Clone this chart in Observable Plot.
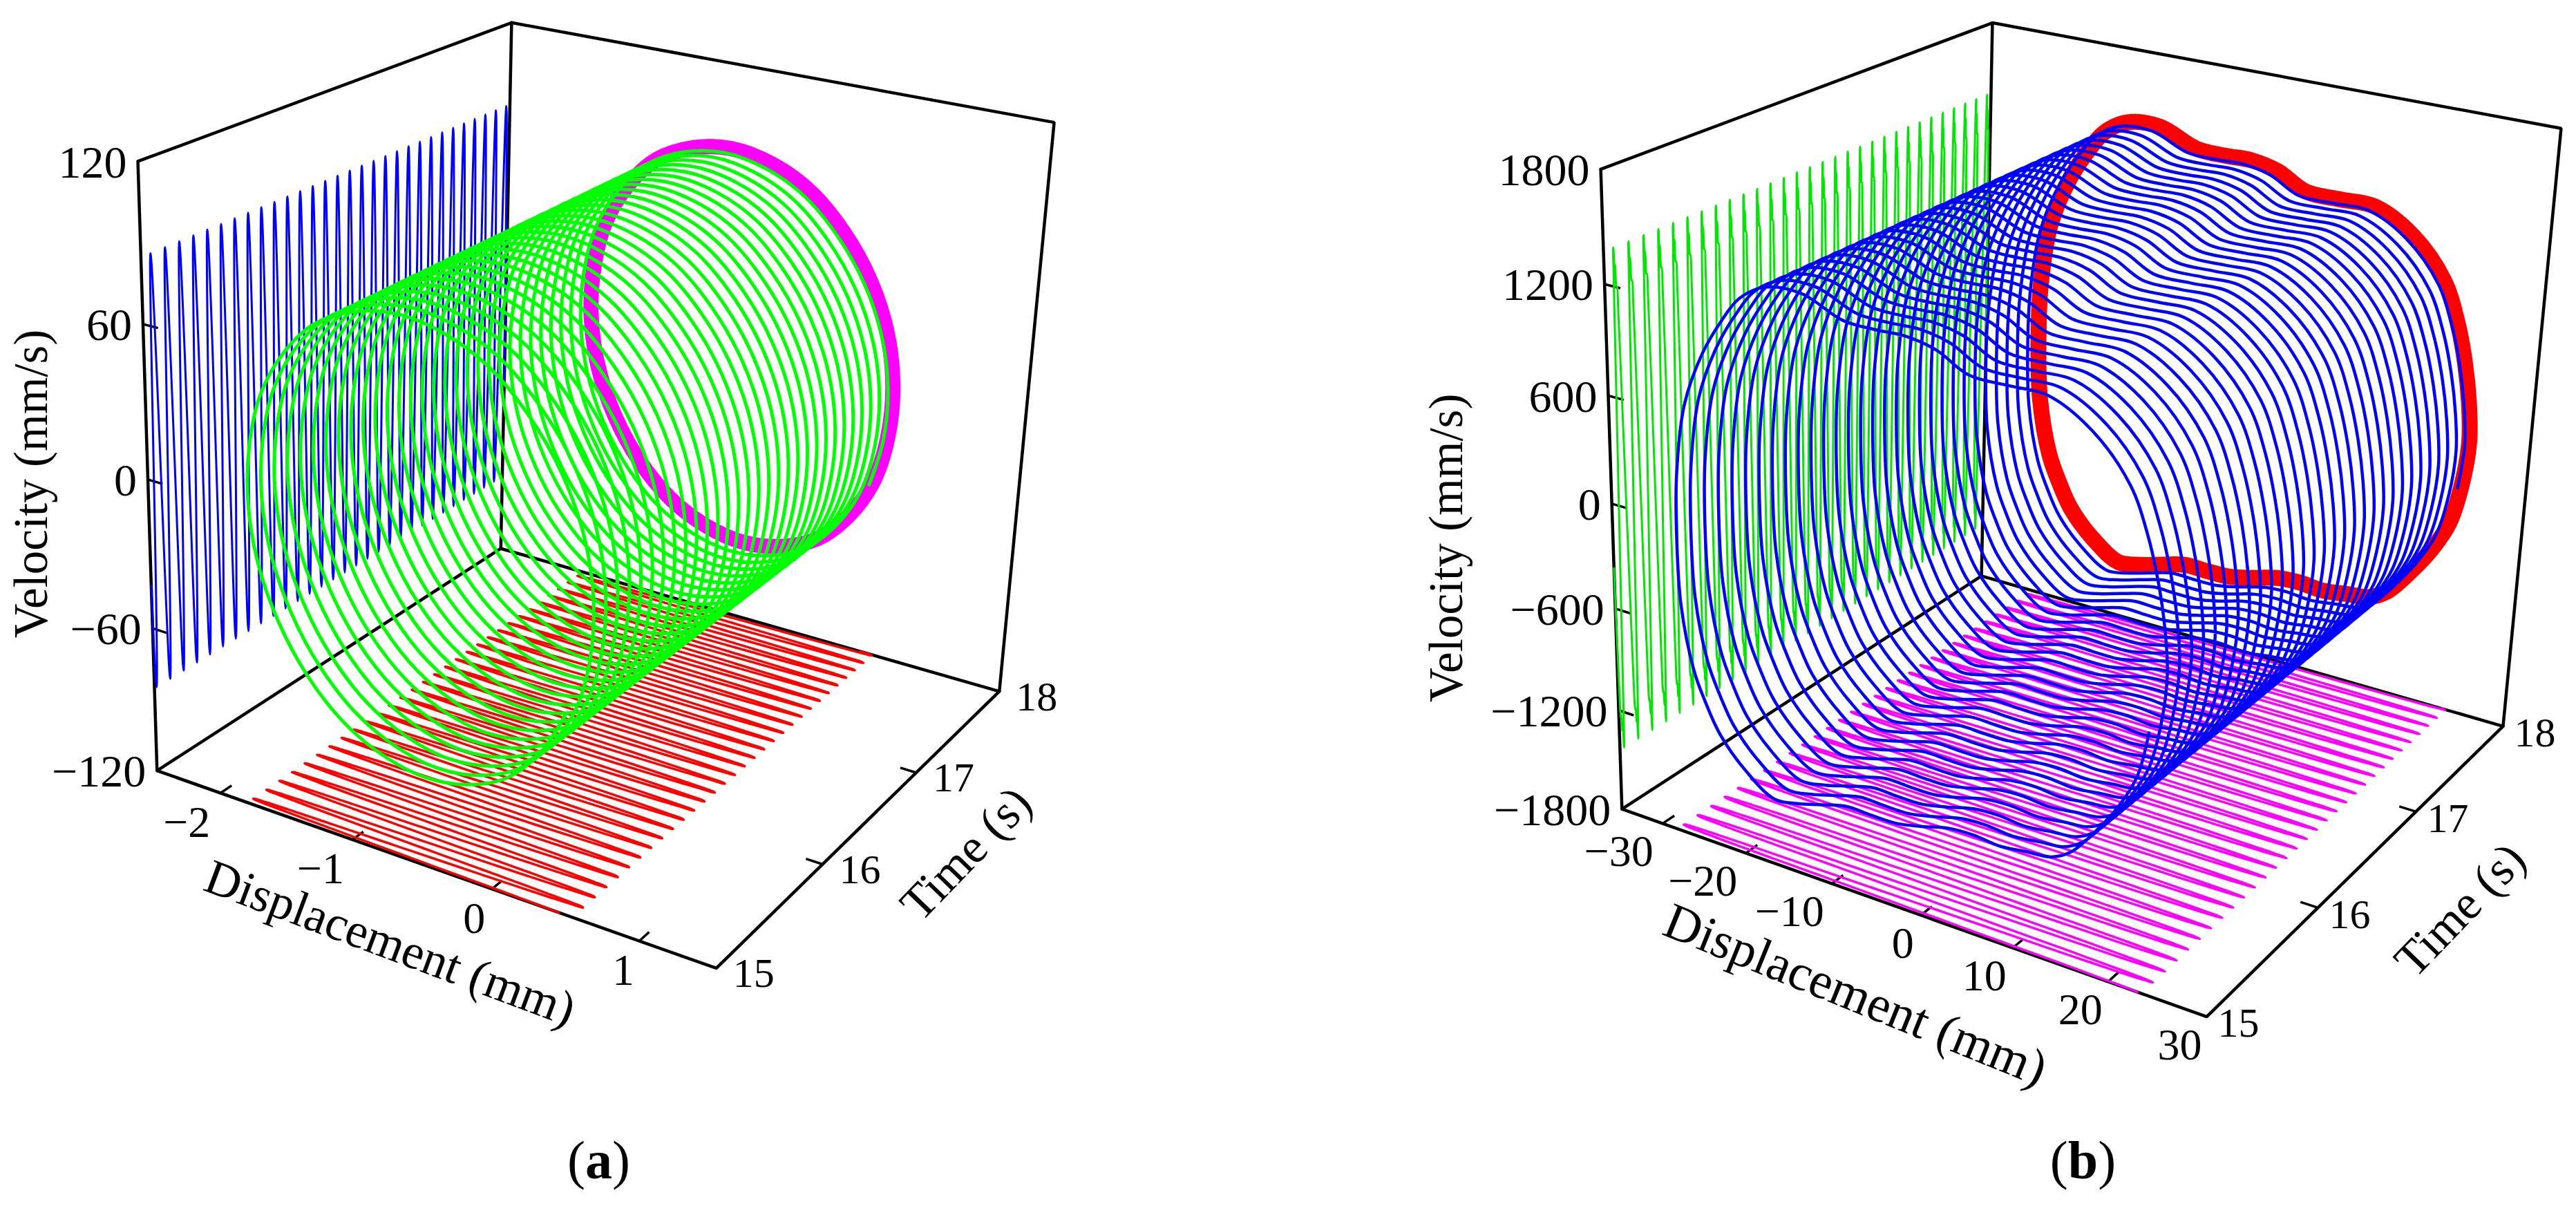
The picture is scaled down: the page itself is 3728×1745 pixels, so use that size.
<!DOCTYPE html>
<html>
<head>
<meta charset="utf-8">
<script src="https://cdn.jsdelivr.net/npm/d3@7"></script>
<script src="https://cdn.jsdelivr.net/npm/@observablehq/plot@0.6"></script>
<style>html,body{margin:0;padding:0;background:#fff}svg{display:block}</style>
</head>
<body>
<div id="chart"></div>
<script>
// ---------- values ----------
const cycleStarts = [15.0,15.1,15.2,15.3,15.4,15.5,15.6,15.7,15.8,15.9,16.0,16.1,16.2,16.3,16.4,16.5,16.6,16.7,16.8,16.9,17.0,17.1,17.2,17.3,17.4,17.5,17.6,17.7,17.8,17.9];
const cyclePeriod = 0.1;

// Panel (a) limit cycle (mm, mm/s), clockwise from the point where the trajectory starts
const dispA = [0.46,0.30,0.08,-0.19,-0.49,-0.80,-1.09,-1.36,-1.57,-1.72,-1.79,-1.78,-1.70,-1.54,-1.32,-1.05,-0.75,-0.44,-0.15,0.115,0.33,0.48,0.55,0.54];
const velA  = [-42.5,-60,-74,-82,-85,-82,-74,-60,-42.5,-22,0,22,42.5,60,74,82,85,82,74,60,42.5,22,0,-22];

// Panel (b) limit cycle (mm, mm/s), clockwise from the point where the trajectory starts
const dispB = [23,22,20.3,18.2,15.6,13.6,11.1,8.2,5.3,2.6,-0.4,-3.1,-5.9,-8.7,-11.5,-14.3,-17,-20.4,-23.4,-25.1,-26.4,-27.8,-28.2,-28.1,-27.1,-25,-22.8,-20.8,-18,-14.1,-9.7,-6.3,-3.2,-0.1,3.2,7.2,11,15.4,19.2,21,22.2,23,23.4];
const velB  = [-367,-620,-810,-980,-1152,-1217,-1235,-1256,-1245,-1256,-1300,-1332,-1336,-1335,-1375,-1418,-1440,-1330,-1166,-1004,-842,-493,-126,241,630,929,1130,1270,1360,1372,1285,1278,1282,1249,1163,1159,1159,1037,814,590,360,130,-97];

const dispTicksA = [-2,-1,0,1];
const velTicksA  = [-120,-60,0,60,120];
const dispTicksB = [-30,-20,-10,0,10,20,30];
const velTicksB  = [-1800,-1200,-600,0,600,1200,1800];
const timeTicks  = [15,16,17,18];

// ---------- camera calibration: where the box corners fall on the page ----------
// [x fraction, velocity fraction, time fraction, page x, page y]
const cameraA = [[0,0,0,227,1114],[1,0,0,1036,1401],[0,0,1,724,794],[1,0,1,1446,999],[0,1,0,199,233],[0,1,1,740,32],[1,1,1,1525,177]];
const cameraB = [[0,0,0,2347,1171],[1,0,0,3193,1470],[0,0,1,2867,832],[1,0,1,3622,1051],[0,1,0,2316,244],[0,1,1,2883,33],[1,1,1,3706,185]];

function fitCamera(anchors) {
  const A = [], b = [];
  for (const [X,Y,Z,u,v] of anchors) {
    const U = u/1000, V = v/1000;
    A.push([X,Y,Z,1,0,0,0,0,-U*X,-U*Y,-U*Z]); b.push(U);
    A.push([0,0,0,0,X,Y,Z,1,-V*X,-V*Y,-V*Z]); b.push(V);
  }
  const n = 11;
  const M = Array.from({length:n},(_,i)=>{
    const row = Array.from({length:n},(_,j)=>d3.sum(A,(r)=>r[i]*r[j]) + (i===j?1e-9:0));
    row.push(d3.sum(A,(r,k)=>r[i]*b[k]));
    return row;
  });
  for (let c=0;c<n;c++){
    let p=c; for(let r=c+1;r<n;r++) if(Math.abs(M[r][c])>Math.abs(M[p][c])) p=r;
    [M[c],M[p]]=[M[p],M[c]];
    for(let r=0;r<n;r++){ if(r===c) continue; const f=M[r][c]/M[c][c]; for(let k=c;k<=n;k++) M[r][k]-=f*M[c][k]; }
  }
  const p = M.map((r,i)=>r[n]/r[i]);
  return (X,Y,Z)=>{
    const w = p[8]*X+p[9]*Y+p[10]*Z+1;
    return [1000*(p[0]*X+p[1]*Y+p[2]*Z+p[3])/w, 1000*(p[4]*X+p[5]*Y+p[6]*Z+p[7])/w];
  };
}

function helix(disp, vel) {
  const [x0,x1] = d3.extent(disp), [v0,v1] = d3.extent(vel);
  const cx=(x0+x1)/2, ax=(x1-x0)/2, cv=(v0+v1)/2, av=(v1-v0)/2;
  const ang = disp.map((x,i)=>Math.atan2((vel[i]-cv)/av,(x-cx)/ax));
  const phase = ang.map(a=>{ let d=(ang[0]-a)/(2*Math.PI); return d-Math.floor(d); });
  const pts = cycleStarts.flatMap(s=>disp.map((x,i)=>({x,v:vel[i],t:s+phase[i]*cyclePeriod})));
  pts.push({x:disp[0],v:vel[0],t:cycleStarts[cycleStarts.length-1]+cyclePeriod});
  return pts;
}

function panel(cfg) {
  const {xd,vd,td,anchors,disp,vel,dispTicks,velTicks,colors,widths,lab,helixEnd} = cfg;
  const cam = fitCamera(anchors);
  const P = (x,v,t)=>cam((x-xd[0])/(xd[1]-xd[0]),(v-vd[0])/(vd[1]-vd[0]),(t-td[0])/(td[1]-td[0]));
  const sx = d=>P(d.x,d.v,d.t)[0], sy = d=>P(d.x,d.v,d.t)[1];
  const XL=xd[0],XH=xd[1],VL=vd[0],VH=vd[1],TL=td[0],TH=td[1];
  const frame = [
    [[XL,VH,TL],[XL,VL,TL],[XH,VL,TL],[XH,VL,TH],[XH,VH,TH],[XL,VH,TH],[XL,VH,TL]],
    [[XL,VL,TL],[XL,VL,TH],[XH,VL,TH]],
    [[XL,VL,TH],[XL,VH,TH]]
  ];
  const edges = frame.map(path=>Plot.line(path.map(([x,v,t])=>({x,v,t})),{x:sx,y:sy,stroke:"#000",strokeWidth:4.5,strokeLinejoin:"miter"}));
  const dx=(XH-XL)*0.028, dt=(TH-TL)*0.028;
  const tickSeg = (rows)=>Plot.link(rows,{x1:d=>P(...d[0])[0],y1:d=>P(...d[0])[1],x2:d=>P(...d[1])[0],y2:d=>P(...d[1])[1],stroke:"#000",strokeWidth:3.5});
  const ticks = [
    tickSeg(velTicks.filter(v=>v>VL&&v<VH).map(v=>[[XL,v,TL],[XL+dx,v,TL]])),
    tickSeg(dispTicks.filter(x=>x>XL&&x<XH).map(x=>[[x,VL,TL],[x,VL,TL+dt]])),
    tickSeg(timeTicks.filter(t=>t>TL&&t<TH).map(t=>[[XH,VL,t],[XH-dx,VL,t]]))
  ];
  const font = {fontFamily:"Liberation Serif",fontSize:66,fill:"#000",stroke:"none"};
  const dispShift = x=>lab.dispDx[0]+(lab.dispDx[1]-lab.dispDx[0])*(x-XL)/(XH-XL);
  const labels = [
    Plot.text(velTicks,{x:v=>P(XL,v,TL)[0],y:v=>P(XL,v,TL)[1],text:v=>String(v).replace("-","\u2212"),textAnchor:"end",dx:-16,dy:2,...font}),
    Plot.text(dispTicks,{x:x=>P(x,VL,TL)[0]+dispShift(x),y:x=>P(x,VL,TL)[1],text:x=>String(x).replace("-","\u2212"),textAnchor:"end",dy:lab.dispDy,...font,fontSize:64}),
    Plot.text(timeTicks,{x:t=>P(XH,VL,t)[0],y:t=>P(XH,VL,t)[1],text:t=>String(t),textAnchor:"start",dx:lab.timeDx,dy:lab.timeDy,...font,fontSize:60}),
    Plot.text(["Displacement (mm)"],{x:()=>P((XL+XH)/2,VL,TL)[0],y:()=>P((XL+XH)/2,VL,TL)[1],text:d=>d,rotate:lab.dispRot,dx:lab.dispTitle[0],dy:lab.dispTitle[1],...font,fontSize:lab.dispSize}),
    Plot.text(["Time (s)"],{x:()=>P(XH,VL,(TL+TH)/2)[0],y:()=>P(XH,VL,(TL+TH)/2)[1],text:d=>d,rotate:lab.timeRot,dx:lab.timeTitle[0],dy:lab.timeTitle[1],...font,fontSize:70}),
    Plot.text(["Velocity (mm/s)"],{x:()=>P(XL,0,TL)[0],y:()=>P(XL,0,TL)[1],text:d=>d,rotate:-90,dx:lab.velTitle[0],dy:lab.velTitle[1],...font,fontSize:69})
  ];
  const pts = helix(disp,vel);
  const line = (data,color,w,extra={})=>Plot.line(data,{x:sx,y:sy,stroke:color,strokeWidth:w,curve:"catmull-rom",strokeLinejoin:"round",...extra});
  const wall  = pts.map(d=>({...d,x:XL}));
  const floor = pts.map(d=>({...d,v:VL}));
  const end   = disp.map((x,i)=>({x,v:vel[i],t:TH}));
  // the main trajectory stops just short of the time-end plane carrying the thick loop
  const main  = pts.map(d=>({...d,t:TL+(d.t-TL)*(helixEnd-TL)/(TH-TL)}));
  return [
    ...edges, ...ticks,
    line(wall,colors.wall,widths.wall),
    line(floor,colors.floor,widths.floor),
    line(end,colors.end,widths.end,{curve:"catmull-rom-closed"}),
    line(main,colors.helix,widths.helix),
    ...labels
  ];
}

const marks = [
  ...panel({xd:[-2.5,1.5],vd:[-120,120],td:[15,18],helixEnd:17.95,anchors:cameraA,disp:dispA,vel:velA,dispTicks:dispTicksA,velTicks:velTicksA,
    colors:{wall:"#0000ff",floor:"#ff0000",end:"#ff00ff",helix:"#00ff00"},widths:{wall:3,floor:3.5,end:22,helix:5},
    lab:{dispDx:[-16,-6],dispDy:43,timeDx:24,timeDy:8,dispSize:71,dispRot:20.5,timeRot:-46,dispTitle:[-45,115],timeTitle:[138,53],velTitle:[-168,6]}}),
  ...panel({xd:[-35,30],vd:[-1800,1800],td:[15,18],helixEnd:17.95,anchors:cameraB,disp:dispB,vel:velB,dispTicks:dispTicksB,velTicks:velTicksB,
    colors:{wall:"#00e600",floor:"#ff00ff",end:"#ff0000",helix:"#0000ff"},widths:{wall:3,floor:3.5,end:23,helix:4.5},
    lab:{dispDx:[-14,-7],dispDy:41,timeDx:16,timeDy:10,dispSize:74,dispRot:22,timeRot:-46,dispTitle:[-62,127],timeTitle:[133,75],velTitle:[-239,64]}}),
  Plot.text(["(a)","(b)"],{x:d=>d==="(a)"?866:3014,y:()=>1680,text:d=>d,fontFamily:"Liberation Serif",fontSize:78,fill:"#000",stroke:"none"})
];

const chart = Plot.plot({
  width:3728,height:1745,margin:0,
  style:{background:"#fff"},
  x:{axis:null,domain:[0,3728],range:[0,3728]},
  y:{axis:null,domain:[0,1745],range:[0,1745]},
  marks
});
d3.select(chart).selectAll("text").each(function(){
  const t=this.textContent;
  if(t==="(a)"||t==="(b)") this.innerHTML="("+'<tspan font-weight="bold">'+t[1]+"</tspan>)";
});
document.getElementById("chart").append(chart);
</script>
</body>
</html>
